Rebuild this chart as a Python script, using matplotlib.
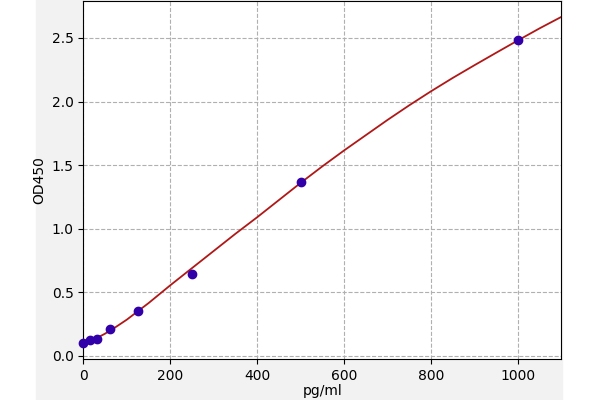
import matplotlib
matplotlib.use("Agg")
import matplotlib.pyplot as plt
from matplotlib.patches import Rectangle

# standard points
conc = [0, 15.6, 31.25, 62.5, 125, 250, 500, 1000]
od = [0.10, 0.125, 0.135, 0.21, 0.355, 0.645, 1.365, 2.48]

# fitted curve
curve_x = [0, 25, 50, 75, 100, 150, 200, 250, 300, 350, 400, 450, 500, 550,
           600, 650, 700, 750, 800, 850, 900, 950, 1000, 1050, 1100]
curve_y = [0.095, 0.13, 0.175, 0.228, 0.285, 0.415, 0.555, 0.69, 0.825, 0.96,
           1.09, 1.225, 1.36, 1.49, 1.615, 1.735, 1.855, 1.97, 2.08, 2.185,
           2.285, 2.383, 2.48, 2.575, 2.665]

fig = plt.figure(figsize=(6, 4), dpi=100, facecolor="white")
fig.patches.append(Rectangle((36 / 600, 0), (562 - 36) / 600, 1,
                             transform=fig.transFigure, color="#f2f2f2", zorder=-1))
ax = fig.add_axes([83.3 / 600, 41 / 400, 478 / 600, 358 / 400])

ax.plot(curve_x, curve_y, color="#b01818", lw=1.3, zorder=2)
ax.scatter(conc, od, s=36, color="#3200a8", zorder=3, clip_on=False)

ax.set_xlim(0, 1100)
ax.set_ylim(-0.024, 2.79)
ax.set_xticks([0, 200, 400, 600, 800, 1000])
ax.set_yticks([0.0, 0.5, 1.0, 1.5, 2.0, 2.5])
ax.grid(True, linestyle="--", color="#b0b0b0", lw=0.8)
ax.set_axisbelow(True)
ax.set_xlabel("pg/ml", labelpad=1)
ax.set_ylabel("OD450")

fig.savefig("out.png", dpi=100)
